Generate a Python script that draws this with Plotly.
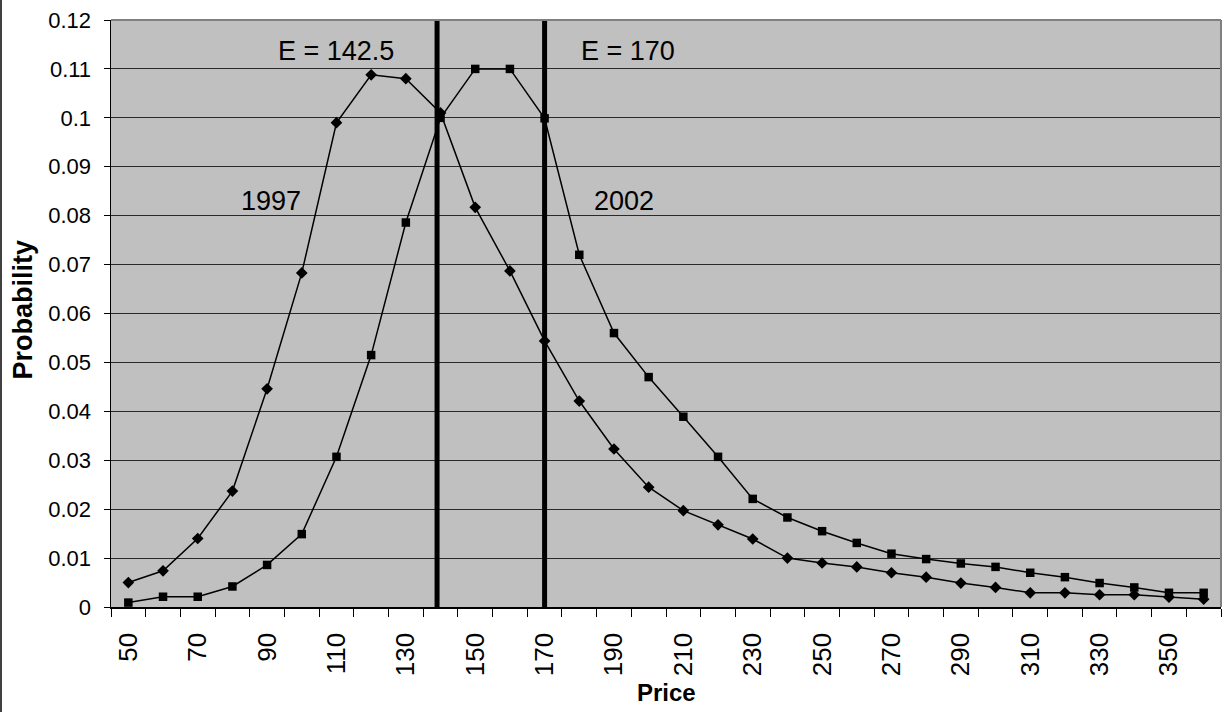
import plotly.graph_objects as go

# ---- data ----
prices = [50, 60, 70, 80, 90, 100, 110, 120, 130, 140, 150, 160, 170, 180, 190, 200,
          210, 220, 230, 240, 250, 260, 270, 280, 290, 300, 310, 320, 330, 340, 350, 360]
prob_1997 = [0.0050, 0.0074, 0.0140, 0.0237, 0.0446, 0.0683, 0.0990, 0.1088, 0.1080, 0.1010,
             0.0817, 0.0687, 0.0544, 0.0421, 0.0323, 0.0245, 0.0197, 0.0168, 0.0139, 0.0100,
             0.0090, 0.0082, 0.0070, 0.0061, 0.0049, 0.0040, 0.0029, 0.0029, 0.0025, 0.0025,
             0.0020, 0.0016]
prob_2002 = [0.0009, 0.0021, 0.0021, 0.0042, 0.0086, 0.0149, 0.0307, 0.0515, 0.0786, 0.1000,
             0.1100, 0.1100, 0.0999, 0.0720, 0.0560, 0.0470, 0.0389, 0.0307, 0.0221, 0.0183,
             0.0155, 0.0131, 0.0109, 0.0098, 0.0089, 0.0082, 0.0070, 0.0061, 0.0049, 0.0040,
             0.0029, 0.0029]
x_tick_labels = [str(p) for p in prices[::2]]
y_ticks = [i / 100 for i in range(0, 13)]
expected_labels = ["E = 142.5", "E = 170"]
expected_line_positions = [139, 170]   # where the thick lines are drawn in the picture
series_names = ["1997", "2002"]

FONT = "Liberation Sans, Arial, sans-serif"
W, H = 1222, 712
ML, MR, MT, MB = 111, 1, 20, 105
PW = W - ML - MR

fig = go.Figure()
fig.add_trace(go.Scatter(
    x=prices, y=prob_1997, mode="lines+markers", name=series_names[0],
    line=dict(color="black", width=1.5),
    marker=dict(symbol="diamond", size=9, color="black"),
    showlegend=False))
fig.add_trace(go.Scatter(
    x=prices, y=prob_2002, mode="lines+markers", name=series_names[1],
    line=dict(color="black", width=1.5),
    marker=dict(symbol="square", size=8.5, color="black"),
    showlegend=False))

half = (prices[1] - prices[0]) / 2
shapes = []
for xv in expected_line_positions:
    shapes.append(dict(type="line", xref="x", yref="paper", x0=xv, x1=xv, y0=0, y1=1,
                       line=dict(color="black", width=5), layer="above"))
# gray top / right border of the plot area
shapes.append(dict(type="line", xref="paper", yref="paper", x0=0, x1=1, y0=1, y1=1,
                   line=dict(color="#808080", width=2), layer="above"))
shapes.append(dict(type="line", xref="paper", yref="paper", x0=1, x1=1, y0=0, y1=1,
                   line=dict(color="#808080", width=2), layer="above"))
# outer chart border on the left
shapes.append(dict(type="line", xref="paper", yref="paper",
                   x0=-(ML - 1) / PW, x1=-(ML - 1) / PW, y0=-MB / (H - MT - MB), y1=1 + MT / (H - MT - MB),
                   line=dict(color="black", width=1.5)))

annotations = [
    dict(x=110, y=0.1137, xref="x", yref="y", text=expected_labels[0], showarrow=False,
         font=dict(size=27, color="black", family=FONT)),
    dict(x=194, y=0.1137, xref="x", yref="y", text=expected_labels[1], showarrow=False,
         font=dict(size=27, color="black", family=FONT)),
    dict(x=91, y=0.083, xref="x", yref="y", text=series_names[0], showarrow=False,
         font=dict(size=27, color="black", family=FONT)),
    dict(x=193, y=0.083, xref="x", yref="y", text=series_names[1], showarrow=False,
         font=dict(size=27, color="black", family=FONT)),
    dict(x=0, y=0.5, xref="paper", yref="paper", xshift=-(ML - 22), yshift=4,
         text="<b>Probability</b>",
         textangle=-90, showarrow=False, xanchor="center", yanchor="middle",
         font=dict(size=27, color="black", family=FONT)),
    dict(x=0.5, y=0, xref="paper", yref="paper", yshift=-(692 - (H - MB)), text="<b>Price</b>",
         showarrow=False, xanchor="center", yanchor="middle",
         font=dict(size=24, color="black", family=FONT)),
]

fig.update_layout(
    width=W, height=H,
    margin=dict(l=ML, r=MR, t=MT, b=MB, autoexpand=False),
    paper_bgcolor="white", plot_bgcolor="#C0C0C0",
    font=dict(family=FONT, color="black"),
    shapes=shapes, annotations=annotations,
    xaxis=dict(
        range=[prices[0] - half, prices[-1] + half],
        tickmode="array", tickvals=prices[::2], ticktext=x_tick_labels,
        tickangle=-90, ticks="", showgrid=False, zeroline=False,
        showline=True, linecolor="black", linewidth=1.5,
        tickfont=dict(size=26, family=FONT, color="black"),
        ticklabelstandoff=14,
        minor=dict(tickmode="linear", tick0=prices[0] - half, dtick=2 * half,
                   ticks="outside", ticklen=8, tickcolor="black", tickwidth=1, showgrid=False),
    ),
    yaxis=dict(
        range=[0, 0.12], tickmode="array", tickvals=y_ticks,
        ticktext=[("%g" % v) for v in y_ticks],
        ticks="outside", ticklen=6, tickcolor="black", tickwidth=1,
        showgrid=True, gridcolor="#2a2a2a", gridwidth=1, zeroline=False,
        showline=True, linecolor="black", linewidth=1.5,
        tickfont=dict(size=22, family=FONT, color="black"),
        ticklabelstandoff=8,
    ),
)

fig.write_html("out.html", config={"displayModeBar": False, "staticPlot": True},
               post_script="document.body.style.margin='0';document.body.style.overflow='hidden';")
